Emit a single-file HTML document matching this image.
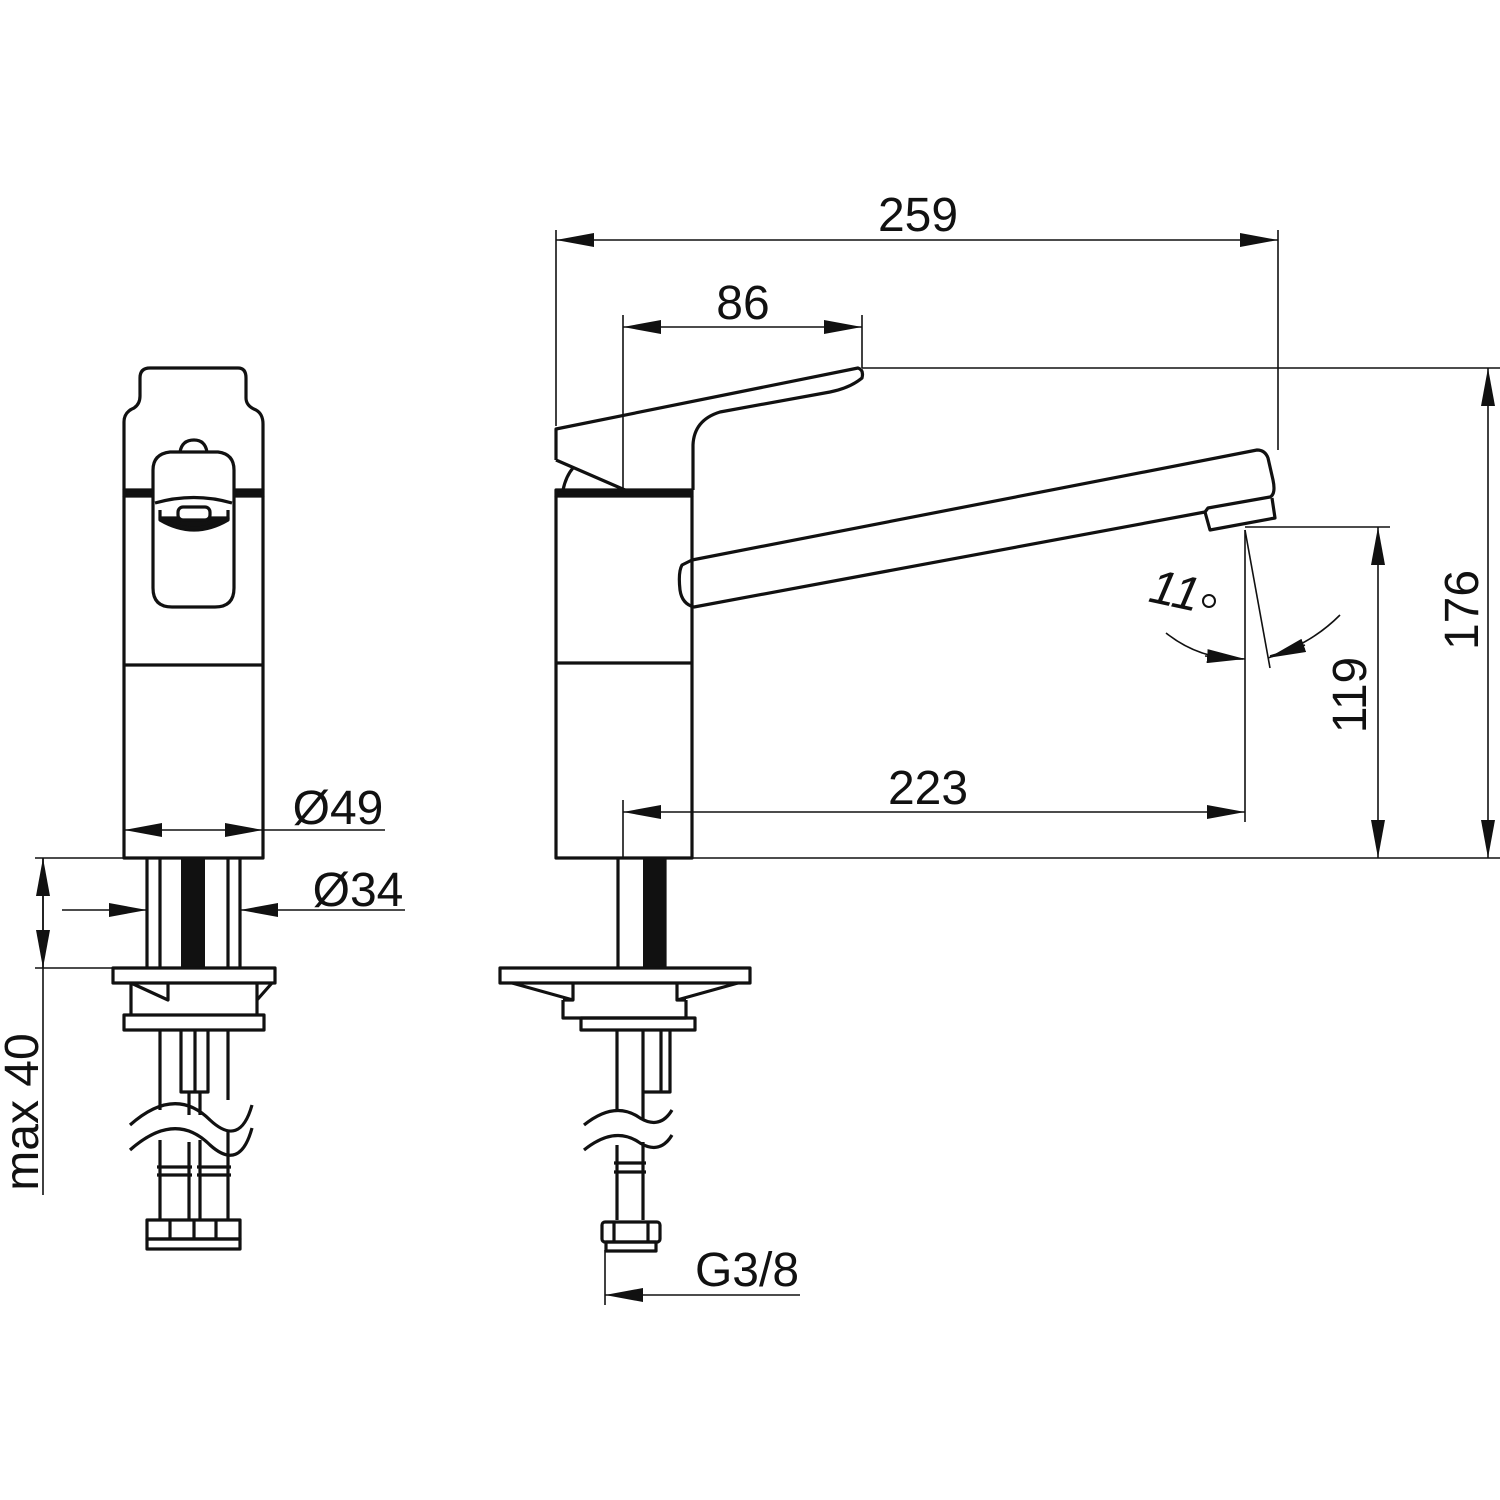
<!DOCTYPE html>
<html><head><meta charset="utf-8"><style>html,body{margin:0;padding:0;background:#fff}svg{display:block}</style></head>
<body>
<svg width="1500" height="1500" viewBox="0 0 1500 1500" xmlns="http://www.w3.org/2000/svg" font-family="Liberation Sans, sans-serif">
<defs>
<marker id="a" viewBox="0 0 38 14" refX="38" refY="7" markerWidth="38" markerHeight="14" markerUnits="userSpaceOnUse" orient="auto-start-reverse"><path d="M0,0 L38,7 L0,14 z" fill="#111"/></marker>
</defs>
<g fill="none" stroke="#111" stroke-width="3.2" stroke-linejoin="round">
<!-- LEFT VIEW -->
<path d="M124,490 V422 Q124,412 134,408 Q140,404 140,396 V378 Q140,368 150,368 H238 Q246,368 246,378 V398 Q246,406 256,410 Q263,414 263,424 V490"/>
<rect x="124" y="490" width="139" height="6" fill="#111"/>
<path d="M124,496 V858 H263 V496"/>
<line x1="124" y1="665" x2="263" y2="665"/>
<path d="M180,452 Q182,440 194,440 Q205,440 207,452"/>
<path d="M153,470 Q153,454 170,452 H218 Q234,454 234,470 V588 Q234,607 215,607 H172 Q153,607 153,588 Z" fill="#fff"/>
<path d="M155,503 Q194,492 232,503"/>
<path d="M160,510 V520 Q194,540 228,520 V510"/>
<path d="M160,518 Q194,538 228,518 Z" fill="#111"/>
<rect x="178" y="507" width="32" height="13" rx="5" fill="#fff"/>
<line x1="147" y1="858" x2="147" y2="968"/><line x1="160" y1="858" x2="160" y2="968"/>
<line x1="228" y1="858" x2="228" y2="968"/><line x1="240" y1="858" x2="240" y2="968"/>
<rect x="181" y="858" width="24" height="110" fill="#111" stroke="none"/>
<rect x="113" y="968" width="162" height="15"/>
<path d="M131,983 V1015 M257,983 V1015 M131,983 L168,1000 V983 M257,1000 L272,983"/>
<rect x="124" y="1015" width="140" height="15"/>
<path d="M160,1030 V1110 M228,1030 V1100 M181,1030 V1092 H208 V1030 M195,1030 V1092 M189,1092 V1115 M200,1092 V1115"/>
<path d="M130,1125 Q175,1085 210,1120 Q240,1148 252,1105"/>
<path d="M130,1150 Q175,1110 210,1145 Q240,1172 252,1128"/>
<path d="M160,1140 V1220 M189,1142 V1220 M200,1140 V1220 M228,1130 V1220 M157,1167 H192 M197,1167 H231 M157,1175 H192 M197,1175 H231"/>
<rect x="147" y="1220" width="93" height="19"/>
<line x1="170" y1="1220" x2="170" y2="1239"/><line x1="194" y1="1220" x2="194" y2="1239"/><line x1="216" y1="1220" x2="216" y2="1239"/>
<rect x="147" y="1239" width="93" height="10"/>

<!-- RIGHT VIEW -->
<path d="M556,496 V858 H692 V496"/>
<rect x="556" y="490" width="136" height="6" fill="#111"/>
<line x1="556" y1="663" x2="692" y2="663"/>
<path d="M556,460 V429 L858,368 Q864,370 862,378 Q850,388 830,392 L720,412 Q694,420 693,445 L693,490"/>
<path d="M556,460 L625,490 M563,490 Q566,476 573,468"/>
<path d="M692,560 L682,565 Q678,572 680,590 Q682,604 694,607 L1205,512 L1208,508 L1270,497 Q1276,494 1273,480 L1268,458 Q1265,450 1257,450 L692,560"/>
<path d="M1205,512 L1210,530 L1275,518 L1272,498"/>
<line x1="618" y1="858" x2="618" y2="968"/><line x1="665" y1="858" x2="665" y2="968"/>
<rect x="643" y="858" width="22" height="110" fill="#111" stroke="none"/>
<rect x="500" y="968" width="250" height="15"/>
<path d="M512,983 L573,1000 V983 M677,983 V1000 L738,983 M563,1000 H573 M677,1000 H686 M563,1000 V1018 H686 V1000"/>
<rect x="581" y="1018" width="114" height="12"/>
<path d="M617,1030 V1110 M643,1030 V1120 M643,1092 H670 V1030 M661,1030 V1092"/>
<path d="M584,1125 Q615,1100 640,1118 Q660,1130 672,1110"/>
<path d="M584,1150 Q615,1125 640,1143 Q660,1155 672,1135"/>
<path d="M617,1145 V1220 M643,1142 V1220 M614,1163 H646 M614,1172 H646"/>
<rect x="602" y="1222" width="58" height="20" rx="3"/>
<line x1="614" y1="1222" x2="614" y2="1242"/><line x1="648" y1="1222" x2="648" y2="1242"/>
<rect x="606" y="1242" width="50" height="9"/>
</g>

<g fill="none" stroke="#111" stroke-width="1.6">
<line x1="263" y1="830" x2="385" y2="830"/>
<line x1="124" y1="830" x2="263" y2="830" marker-start="url(#a)" marker-end="url(#a)"/>
<line x1="62" y1="910" x2="147" y2="910" marker-end="url(#a)"/>
<line x1="405" y1="910" x2="240" y2="910" marker-end="url(#a)"/>
<line x1="35" y1="858" x2="147" y2="858"/><line x1="35" y1="968" x2="113" y2="968"/>
<line x1="43" y1="858" x2="43" y2="1195"/>
<line x1="43" y1="858" x2="43" y2="968" marker-start="url(#a)" marker-end="url(#a)"/>
<line x1="556" y1="230" x2="556" y2="426"/><line x1="1278" y1="230" x2="1278" y2="450"/>
<line x1="556" y1="240" x2="1278" y2="240" marker-start="url(#a)" marker-end="url(#a)"/>
<line x1="623" y1="315" x2="623" y2="490"/><line x1="862" y1="315" x2="862" y2="368"/>
<line x1="623" y1="327" x2="862" y2="327" marker-start="url(#a)" marker-end="url(#a)"/>
<line x1="862" y1="368" x2="1500" y2="368"/><line x1="692" y1="858" x2="1500" y2="858"/>
<line x1="1488" y1="368" x2="1488" y2="858" marker-start="url(#a)" marker-end="url(#a)"/>
<line x1="1245" y1="527" x2="1390" y2="527"/>
<line x1="1378" y1="527" x2="1378" y2="858" marker-start="url(#a)" marker-end="url(#a)"/>
<line x1="623" y1="800" x2="623" y2="858"/><line x1="1245" y1="530" x2="1245" y2="822"/>
<line x1="623" y1="812" x2="1245" y2="812" marker-start="url(#a)" marker-end="url(#a)"/>
<line x1="1245" y1="530" x2="1270" y2="668"/>
<path d="M1166,633 Q1200,660 1243,659"/>
<path d="M1340,615 Q1310,645 1270,656"/>
<line x1="1205" y1="656" x2="1245" y2="659" marker-end="url(#a)"/>
<line x1="1305" y1="645" x2="1268" y2="658" marker-end="url(#a)"/>
<line x1="605" y1="1250" x2="605" y2="1305"/>
<line x1="800" y1="1295" x2="605" y2="1295" marker-end="url(#a)"/>
</g>

<g fill="#111" font-size="48">
<text x="918" y="231" text-anchor="middle">259</text>
<text x="743" y="319" text-anchor="middle">86</text>
<text x="928" y="804" text-anchor="middle">223</text>
<text x="338" y="824" text-anchor="middle">Ø49</text>
<text x="358" y="906" text-anchor="middle">Ø34</text>
<text x="747" y="1286" text-anchor="middle">G3/8</text>
<text transform="translate(1478,610) rotate(-90)" text-anchor="middle">176</text>
<text transform="translate(1366,695) rotate(-90)" text-anchor="middle">119</text>
<text transform="translate(38,1112) rotate(-90)" text-anchor="middle">max 40</text>
<text x="1148" y="606" font-style="italic" transform="rotate(12 1170 600)">11</text>
</g>
<circle cx="1209" cy="601" r="6" fill="none" stroke="#111" stroke-width="2"/>
</svg>
</body></html>
